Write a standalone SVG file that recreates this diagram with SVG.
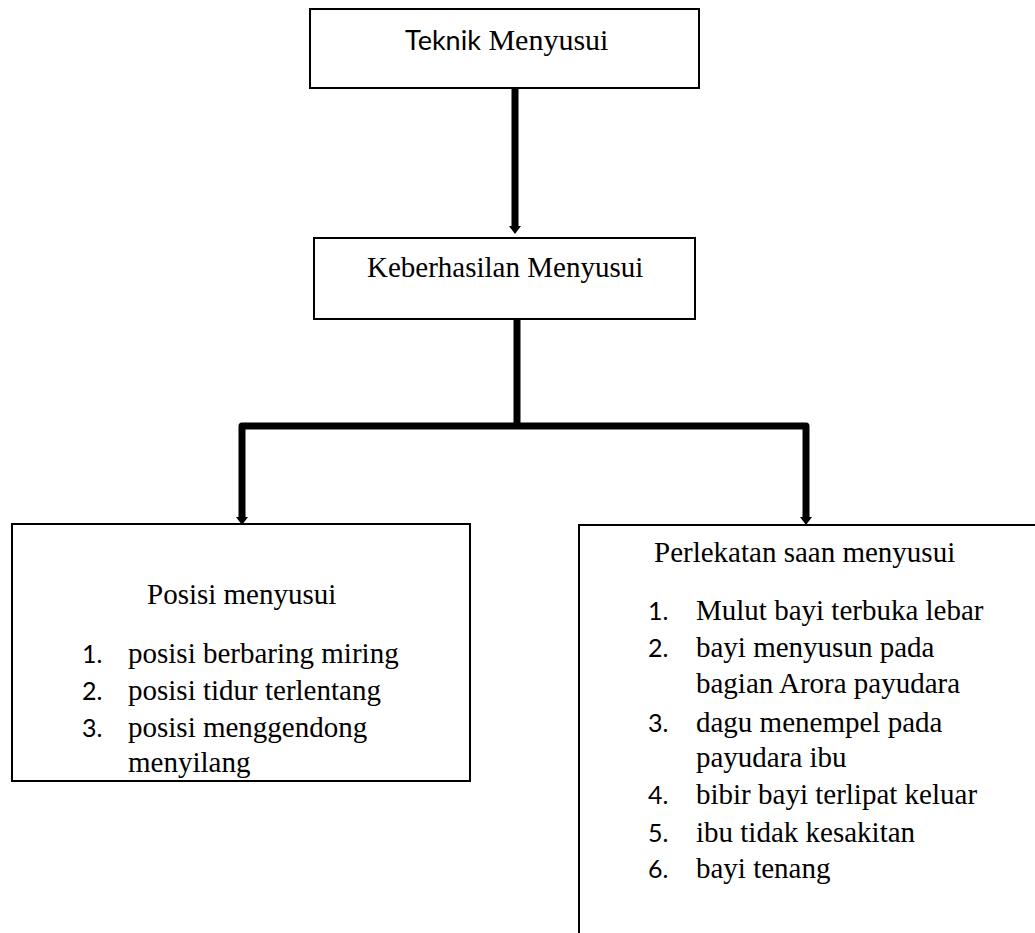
<svg xmlns="http://www.w3.org/2000/svg" width="1035" height="933" viewBox="0 0 1035 933">
<style>
.box{fill:#fff;stroke:#000;stroke-width:2}
.serif{font-family:"Liberation Serif","Times New Roman",serif;font-size:29px;fill:#000}
.sans{font-family:Lato,"Liberation Sans",sans-serif;font-size:25px;fill:#000}
.conn{fill:none;stroke:#000;stroke-width:7;stroke-linejoin:round}
</style>
<defs>
<marker id="ah" markerUnits="userSpaceOnUse" markerWidth="14" markerHeight="10" refX="7" refY="8" orient="auto-start-reverse" viewBox="0 0 14 10">
<path d="M1,2 L13,2 L7,8 Z" fill="#000"/>
</marker>
</defs>
<rect width="1035" height="933" fill="#fff"/>
<g id="connectors">
<path class="conn" d="M515,89 L515,226"/>
<polygon points="509,226 521,226 515,234" fill="#000"/>
<path class="conn" d="M517,320 L517,426"/>
<path class="conn" d="M242,517 L242,426 L806,426 L806,517"/>
<polygon points="236,517 248,517 242,525" fill="#000"/>
<polygon points="800,517 812,517 806,525" fill="#000"/>
</g>
<g id="node-teknik">
<rect class="box" x="310" y="9" width="389" height="79"/>
<text x="405" y="50"><tspan class="sans" style="font-size:27px">Teknik</tspan><tspan class="serif" style="font-size:30px"> Menyusui</tspan></text>
</g>
<g id="node-keberhasilan">
<rect class="box" x="314" y="238" width="381" height="81"/>
<text class="serif" x="367" y="277">Keberhasilan Menyusui</text>
</g>
<g id="node-posisi">
<rect class="box" x="12" y="524" width="458" height="257"/>
<text class="serif" x="147" y="604">Posisi menyusui</text>
<text class="sans" x="82" y="663">1.</text>
<text class="serif" x="128" y="663">posisi berbaring miring</text>
<text class="sans" x="82" y="700">2.</text>
<text class="serif" x="128" y="700">posisi tidur terlentang</text>
<text class="sans" x="82" y="737">3.</text>
<text class="serif" x="128" y="737">posisi menggendong</text>
<text class="serif" x="128" y="772">menyilang</text>
</g>
<g id="node-perlekatan">
<path class="box" d="M579,940 L579,525 L1040,525"/>
<text class="serif" x="654" y="562">Perlekatan saan menyusui</text>
<text class="sans" x="648" y="620">1.</text>
<text class="serif" x="696" y="620">Mulut bayi terbuka lebar</text>
<text class="sans" x="648" y="657">2.</text>
<text class="serif" x="696" y="657">bayi menyusun pada</text>
<text class="serif" x="696" y="693">bagian Arora payudara</text>
<text class="sans" x="648" y="732">3.</text>
<text class="serif" x="696" y="732">dagu menempel pada</text>
<text class="serif" x="696" y="767">payudara ibu</text>
<text class="sans" x="648" y="804">4.</text>
<text class="serif" x="696" y="804">bibir bayi terlipat keluar</text>
<text class="sans" x="648" y="842">5.</text>
<text class="serif" x="696" y="842">ibu tidak kesakitan</text>
<text class="sans" x="648" y="878">6.</text>
<text class="serif" x="696" y="878">bayi tenang</text>
</g>
</svg>
